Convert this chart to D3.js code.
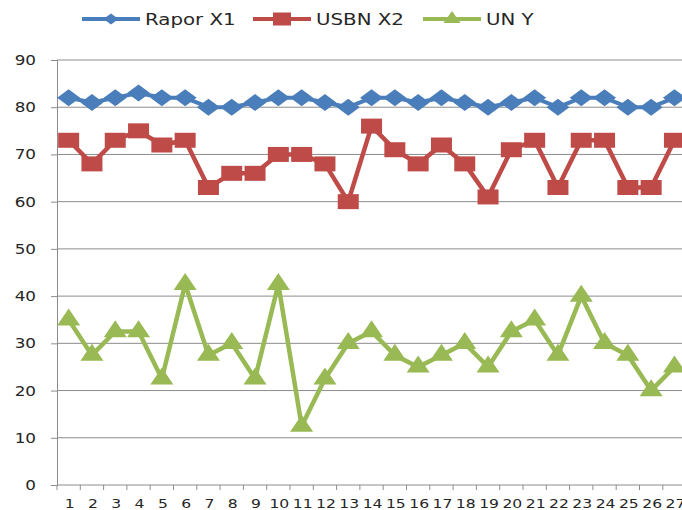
<!DOCTYPE html>
<html>
<head>
<meta charset="utf-8">
<script src="https://cdn.jsdelivr.net/npm/d3@7"></script>
<style>
  body { margin: 0; background: #fff; }
  text { font-family: "DejaVu Sans", sans-serif; fill: #262626; }
</style>
</head>
<body>
<script>
// chart data
const categories = d3.range(1, 28).map(String);
const raporX1 = [82, 81, 82, 83, 82, 82, 80, 80, 81, 82, 82, 81, 80, 82, 82, 81, 82, 81, 80, 81, 82, 80, 82, 82, 80, 80, 82];
const usbnX2 = [73, 68, 73, 75, 72, 73, 63, 66, 66, 70, 70, 68, 60, 76, 71, 68, 72, 68, 61, 71, 73, 63, 73, 73, 63, 63, 73];
const unY = [35, 27.5, 32.5, 32.5, 22.5, 42.5, 27.5, 30, 22.5, 42.5, 12.5, 22.5, 30, 32.5, 27.5, 25, 27.5, 30, 25, 32.5, 35, 27.5, 40, 30, 27.5, 20, 25];
const yTicks = [0, 10, 20, 30, 40, 50, 60, 70, 80, 90];
const seriesNames = ["Rapor X1", "USBN X2", "UN Y"];

// marker shapes (the picture is stretched sideways, so markers are wider than tall)
function diamond(w, h) {
  return "M" + (-w/2) + ",0L0," + (-h/2) + "L" + (w/2) + ",0L0," + (h/2) + "Z";
}
function square(w, h) {
  return "M" + (-w/2) + "," + (-h/2) + "h" + w + "v" + h + "h" + (-w) + "Z";
}
function triangle(w, h) {
  return "M0," + (-h*2/3) + "L" + (w/2) + "," + (h/3) + "L" + (-w/2) + "," + (h/3) + "Z";
}

const series = [
  {name: seriesNames[0], values: raporX1, color: "#4a7ebb", marker: diamond(23, 17), legendMarker: diamond(15, 11), lw: 4},
  {name: seriesNames[1], values: usbnX2, color: "#be4b48", marker: square(21, 15), legendMarker: square(18, 13), lw: 4.5},
  {name: seriesNames[2], values: unY, color: "#98b954", marker: triangle(23, 17), legendMarker: triangle(17, 12), lw: 4.5}
];

var width = 682, height = 510;
var margin = {top: 60, left: 57, bottom: 25};
var plotW = 27 * 23.3;
var sx = 1.2; // horizontal stretch of the text

var svg = d3.select("body").append("svg")
    .attr("width", width)
    .attr("height", height);

var x = d3.scaleBand().domain(categories).range([margin.left, margin.left + plotW]);
var y = d3.scaleLinear().domain([0, 90]).range([height - margin.bottom, margin.top]);

// gridlines
svg.append("g")
  .selectAll("line")
  .data(yTicks.slice(1))
  .join("line")
    .attr("x1", margin.left).attr("x2", margin.left + plotW)
    .attr("y1", d => y(d)).attr("y2", d => y(d))
    .attr("stroke", "#8c8c8c").attr("stroke-width", 1);

// y axis
var yAxis = svg.append("g")
    .attr("transform", "translate(" + margin.left + ",0)")
    .call(d3.axisLeft(y).tickValues(yTicks).tickSize(6));
yAxis.selectAll("line, path").attr("stroke", "#8c8c8c");
yAxis.selectAll("text")
    .attr("x", -21 / sx)
    .attr("transform", "scale(" + sx + ",1)")
    .style("font-size", "14px")
    .style("font-family", "DejaVu Sans")
    .attr("fill", "#262626");

// x axis, ticks between categories
var xAxisG = svg.append("g")
    .attr("transform", "translate(0," + y(0) + ")");
xAxisG.append("line")
    .attr("x1", margin.left).attr("x2", margin.left + plotW)
    .attr("stroke", "#8c8c8c");
xAxisG.selectAll("line.tick")
  .data(categories)
  .join("line")
    .attr("class", "tick")
    .attr("x1", d => x(d)).attr("x2", d => x(d))
    .attr("y1", 0).attr("y2", 5)
    .attr("stroke", "#8c8c8c");
xAxisG.selectAll("text")
  .data(categories)
  .join("text")
    .attr("transform", d => "translate(" + (x(d) + x.bandwidth() / 2 + 1) + ",23) scale(" + sx + ",1)")
    .attr("text-anchor", "middle")
    .style("font-size", "13px")
    .text(d => d);

// lines + markers
var line = d3.line()
    .x((d, i) => x(categories[i]) + x.bandwidth() / 2)
    .y(d => y(d));

series.forEach(function(s) {
  var g = svg.append("g");
  g.append("path")
    .datum(s.values)
    .attr("d", line)
    .attr("fill", "none")
    .attr("stroke", s.color)
    .attr("stroke-width", s.lw)
    .attr("stroke-linejoin", "round");
  g.selectAll("path.mark")
    .data(s.values)
    .join("path")
      .attr("class", "mark")
      .attr("transform", (d, i) => "translate(" + (x(categories[i]) + x.bandwidth() / 2) + "," + y(d) + ")")
      .attr("d", s.marker)
      .attr("fill", s.color);
});

// legend
var legendX = [82, 253, 423];
var legend = svg.append("g").attr("transform", "translate(0,19)");
series.forEach(function(s, i) {
  var lg = legend.append("g").attr("transform", "translate(" + legendX[i] + ",0)");
  lg.append("line").attr("x1", 0).attr("x2", 58)
    .attr("stroke", s.color).attr("stroke-width", 4);
  lg.append("path")
    .attr("transform", "translate(29,0)")
    .attr("d", s.legendMarker)
    .attr("fill", s.color);
  lg.append("text")
    .attr("transform", "translate(63,6) scale(1.2,1)")
    .style("font-size", "16.5px")
    .text(s.name);
});
</script>
</body>
</html>
